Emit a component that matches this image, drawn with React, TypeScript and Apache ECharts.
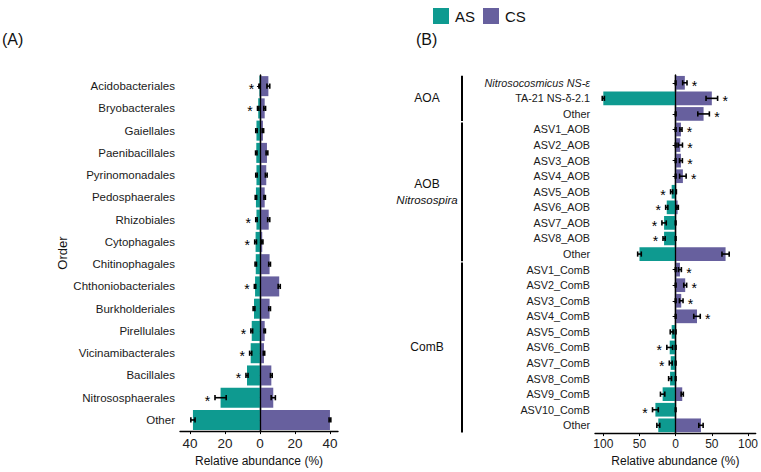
import React, { useEffect, useRef } from "react";
import * as echarts from "echarts";

// ---------- Panel A data ----------
const ordersA = [
  "Acidobacteriales", "Bryobacterales", "Gaiellales", "Paenibacillales",
  "Pyrinomonadales", "Pedosphaerales", "Rhizobiales", "Cytophagales",
  "Chitinophagales", "Chthoniobacteriales", "Burkholderiales", "Pirellulales",
  "Vicinamibacterales", "Bacillales", "Nitrososphaerales", "Other",
];
const asA = [0.3, 1.0, 2.0, 2.1, 2.0, 2.3, 2.0, 2.5, 2.4, 2.8, 3.4, 4.7, 5.3, 7.4, 22.5, 38.3];
const csA = [4.8, 2.7, 1.7, 4.0, 3.6, 2.7, 5.0, 1.3, 5.5, 11.0, 5.5, 2.7, 2.3, 6.5, 7.6, 40.0];
const errAsA = [0.3, 0.4, 0.4, 0.4, 0.4, 0.4, 0.4, 0.5, 0.4, 0.4, 0.5, 0.5, 0.6, 0.6, 3.2, 1.2];
const errCsA = [0.8, 0.5, 0.4, 0.5, 0.5, 0.4, 0.6, 0.4, 0.5, 0.6, 0.5, 0.4, 0.4, 0.5, 1.2, 0.5];
const starA = [1, 1, 0, 0, 0, 0, 1, 1, 0, 1, 0, 1, 1, 1, 1, 0];
const ticksA = [-40, -20, 0, 20, 40];

// ---------- Panel B data ----------
const taxaB = [
  "Nitrosocosmicus NS-ε", "TA-21 NS-δ-2.1", "Other",
  "ASV1_AOB", "ASV2_AOB", "ASV3_AOB", "ASV4_AOB", "ASV5_AOB", "ASV6_AOB", "ASV7_AOB", "ASV8_AOB", "Other",
  "ASV1_ComB", "ASV2_ComB", "ASV3_ComB", "ASV4_ComB", "ASV5_ComB", "ASV6_ComB", "ASV7_ComB",
  "ASV8_ComB", "ASV9_ComB", "ASV10_ComB", "Other",
];
const asB = [0, 100, 0, 0, 0, 0, 0, 5.5, 12.3, 16, 16, 50, 0, 0, 0, 0, 5.5, 8.2, 6.8, 7.7, 18, 28, 24];
const csB = [12.7, 50, 38.6, 7.3, 6.4, 7.3, 10, 0.5, 2.7, 0, 0, 69, 5.9, 13.2, 7.7, 29.5, 0, 0, 0, 0, 9.1, 0, 35];
const errAsB = [0.5, 1.5, 0.5, 0.5, 0.5, 0.5, 0.5, 1.5, 1.5, 3, 1.5, 2.5, 0.5, 0.5, 0.5, 0.5, 2, 4, 2, 2, 3, 4, 2];
const errCsB = [3, 8, 8, 1.5, 3, 2, 4.5, 0.5, 1, 0.5, 0.5, 5, 2, 2, 2.5, 4.5, 0.5, 0.5, 0.5, 0.5, 1.5, 0.5, 3];
const starB = ["CS", "CS", "CS", "CS", "CS", "CS", "CS", "AS", "AS", "AS", "AS", "",
  "CS", "CS", "CS", "CS", "", "AS", "AS", "", "", "AS", ""];
const groupsB = [
  { name: "AOA", sub: "", from: 0, to: 2 },
  { name: "AOB", sub: "Nitrosospira", from: 3, to: 11 },
  { name: "ComB", sub: "", from: 12, to: 22 },
];
const ticksB = [-100, -50, 0, 50, 100];

const TEAL = "#0E9A90";
const PURPLE = "#67609E";
const FONT = "Liberation Sans, Arial, sans-serif";

const errRender = (params: any, api: any) => {
  const x = api.value(0), y = api.value(1), e = api.value(2);
  const p1 = api.coord([x - e, y]);
  const p2 = api.coord([x + e, y]);
  const h = 2.6;
  const st = { stroke: "#000", lineWidth: 1.6 };
  return {
    type: "group",
    children: [
      { type: "line", shape: { x1: p1[0], y1: p1[1], x2: p2[0], y2: p2[1] }, style: st },
      { type: "line", shape: { x1: p1[0], y1: p1[1] - h, x2: p1[0], y2: p1[1] + h }, style: st },
      { type: "line", shape: { x1: p2[0], y1: p2[1] - h, x2: p2[0], y2: p2[1] + h }, style: st },
    ],
  };
};

const starRender = (params: any, api: any) => {
  const x = api.value(0), y = api.value(1), dir = api.value(2);
  const p = api.coord([x, y]);
  return {
    type: "text",
    x: p[0] + dir * 7.5,
    y: p[1] + 3,
    style: { text: "*", fill: "#000", fontSize: 14, fontFamily: FONT, align: "center", verticalAlign: "middle" },
  };
};

export default function App() {
  const ref = useRef<HTMLDivElement>(null);
  useEffect(() => {
    if (!ref.current) return;
    const chart = echarts.init(ref.current, undefined, { renderer: "svg" });

    const axisLine = { show: true, lineStyle: { color: "#000", width: 1.4 } };
    const starDataA = ordersA
      .map((_, i) => (starA[i] ? [-(asA[i] + errAsA[i]), i, -1] : null))
      .filter((d) => d);
    const starDataB = taxaB
      .map((_, i) => {
        if (starB[i] === "CS") return [csB[i] + errCsB[i], i, 1];
        if (starB[i] === "AS") return [-(asB[i] + errAsB[i]), i, -1];
        return null;
      })
      .filter((d) => d);

    const zeroLine = {
      silent: true,
      symbol: "none",
      label: { show: false },
      lineStyle: { color: "#000", width: 1.3, type: "solid" },
      data: [{ xAxis: 0 }],
    };

    chart.setOption({
      animation: false,
      textStyle: { fontFamily: FONT },
      legend: {
        data: ["AS", "CS"],
        left: 428,
        top: 3,
        icon: "rect",
        itemWidth: 16,
        itemHeight: 16,
        itemGap: 8,
        textStyle: { fontSize: 15, color: "#111", padding: [0, 0, 0, 1] },
      },
      grid: [
        { left: 180, top: 75, width: 158, height: 362 },
        { left: 595, top: 75, width: 163, height: 362 },
      ],
      xAxis: [
        {
          type: "value", gridIndex: 0, min: -45.7, max: 44.6,
          splitLine: { show: false }, axisLine,
          axisTick: { show: true, length: 3, customValues: ticksA, lineStyle: { color: "#000" } },
          axisLabel: { customValues: ticksA, formatter: (v: number) => String(Math.abs(v)), fontSize: 13.5, color: "#222", margin: 5 },
          name: "Relative abundance (%)", nameLocation: "middle", nameGap: 19,
          nameTextStyle: { fontSize: 12, color: "#111" },
        },
        {
          type: "value", gridIndex: 1, min: -111.5, max: 110.6,
          splitLine: { show: false }, axisLine,
          axisTick: { show: true, length: 3, customValues: ticksB, lineStyle: { color: "#000" } },
          axisLabel: { customValues: ticksB, formatter: (v: number) => String(Math.abs(v)), fontSize: 12, color: "#222", margin: 5 },
          name: "Relative abundance (%)", nameLocation: "middle", nameGap: 19,
          nameTextStyle: { fontSize: 12, color: "#111" },
        },
      ],
      yAxis: [
        {
          type: "category", gridIndex: 0, data: ordersA, inverse: true, axisLine,
          axisTick: { show: true, length: 3, alignWithLabel: true, lineStyle: { color: "#000" } },
          axisLabel: { fontSize: 11.5, color: "#1a1a1a", margin: 5 },
          name: "Order", nameLocation: "middle", nameGap: 111, nameRotate: 90,
          nameTextStyle: { fontSize: 13, color: "#111" },
        },
        {
          type: "category", gridIndex: 1, data: taxaB.map((_, i) => "r" + i), inverse: true, axisLine,
          axisTick: { show: true, length: 3, alignWithLabel: true, lineStyle: { color: "#000" } },
          axisLabel: {
            fontSize: 10.8, color: "#1a1a1a", margin: 5,
            formatter: (_v: string, i: number) => (i === 0 ? "{it|" + taxaB[i] + "}" : taxaB[i]),
            rich: { it: { fontStyle: "italic", fontSize: 10.8, color: "#1a1a1a" } },
          },
        },
      ],
      series: [
        {
          name: "AS", type: "bar", xAxisIndex: 0, yAxisIndex: 0, data: asA.map((v) => -v),
          itemStyle: { color: TEAL }, barWidth: "90%", barGap: "-100%",
        },
        {
          name: "CS", type: "bar", xAxisIndex: 0, yAxisIndex: 0, data: csA,
          itemStyle: { color: PURPLE }, barWidth: "90%", barGap: "-100%", markLine: zeroLine,
        },
        {
          name: "AS", type: "bar", xAxisIndex: 1, yAxisIndex: 1, data: asB.map((v) => -v),
          itemStyle: { color: TEAL }, barWidth: "88%", barGap: "-100%",
        },
        {
          name: "CS", type: "bar", xAxisIndex: 1, yAxisIndex: 1, data: csB,
          itemStyle: { color: PURPLE }, barWidth: "88%", barGap: "-100%", markLine: zeroLine,
        },
        {
          name: "errA", type: "custom", xAxisIndex: 0, yAxisIndex: 0, z: 5,
          encode: { x: 0, y: 1 }, renderItem: errRender,
          data: [
            ...ordersA.map((_, i) => [-asA[i], i, errAsA[i]]),
            ...ordersA.map((_, i) => [csA[i], i, errCsA[i]]),
          ],
        },
        {
          name: "errB", type: "custom", xAxisIndex: 1, yAxisIndex: 1, z: 5,
          encode: { x: 0, y: 1 }, renderItem: errRender,
          data: [
            ...taxaB.map((_, i) => [-asB[i], i, errAsB[i]]),
            ...taxaB.map((_, i) => [csB[i], i, errCsB[i]]),
          ],
        },
        {
          name: "starA", type: "custom", xAxisIndex: 0, yAxisIndex: 0, z: 6,
          encode: { x: 0, y: 1 }, renderItem: starRender, data: starDataA,
        },
        {
          name: "starB", type: "custom", xAxisIndex: 1, yAxisIndex: 1, z: 6,
          encode: { x: 0, y: 1 }, renderItem: starRender, data: starDataB,
        },
      ],
    });

    // group brackets and labels for panel B, positioned from the axis scale
    const band = 362 / taxaB.length;
    const yPix = (i: number) => chart.convertToPixel({ yAxisIndex: 1 }, "r" + i) as number;
    const graphics: any[] = [
      { type: "text", left: 2, top: 31, style: { text: "(A)", fontSize: 16, fill: "#111", fontFamily: FONT } },
      { type: "text", left: 416, top: 31, style: { text: "(B)", fontSize: 16, fill: "#111", fontFamily: FONT } },
    ];
    groupsB.forEach((g) => {
      const y0 = yPix(g.from) - band * 0.45;
      const y1 = yPix(g.to) + band * 0.45;
      graphics.push({
        type: "line",
        shape: { x1: 462, y1: y0, x2: 462, y2: y1 },
        style: { stroke: "#000", lineWidth: 2 },
      });
      const mid = (y0 + y1) / 2;
      const textStyle = { fontSize: 12, fill: "#111", fontFamily: FONT, align: "center", verticalAlign: "middle" };
      if (g.sub) {
        graphics.push({ type: "text", x: 427, y: mid - 8, style: { ...textStyle, text: g.name } });
        graphics.push({ type: "text", x: 427, y: mid + 8, style: { ...textStyle, text: g.sub, fontSize: 11.5, fontStyle: "italic" } });
      } else {
        graphics.push({ type: "text", x: 427, y: mid, style: { ...textStyle, text: g.name } });
      }
    });
    chart.setOption({ graphic: graphics });

    return () => chart.dispose();
  }, []);
  return <div ref={ref} style={{ position: "absolute", left: 0, top: 0, width: 761, height: 472 }} />;
}
